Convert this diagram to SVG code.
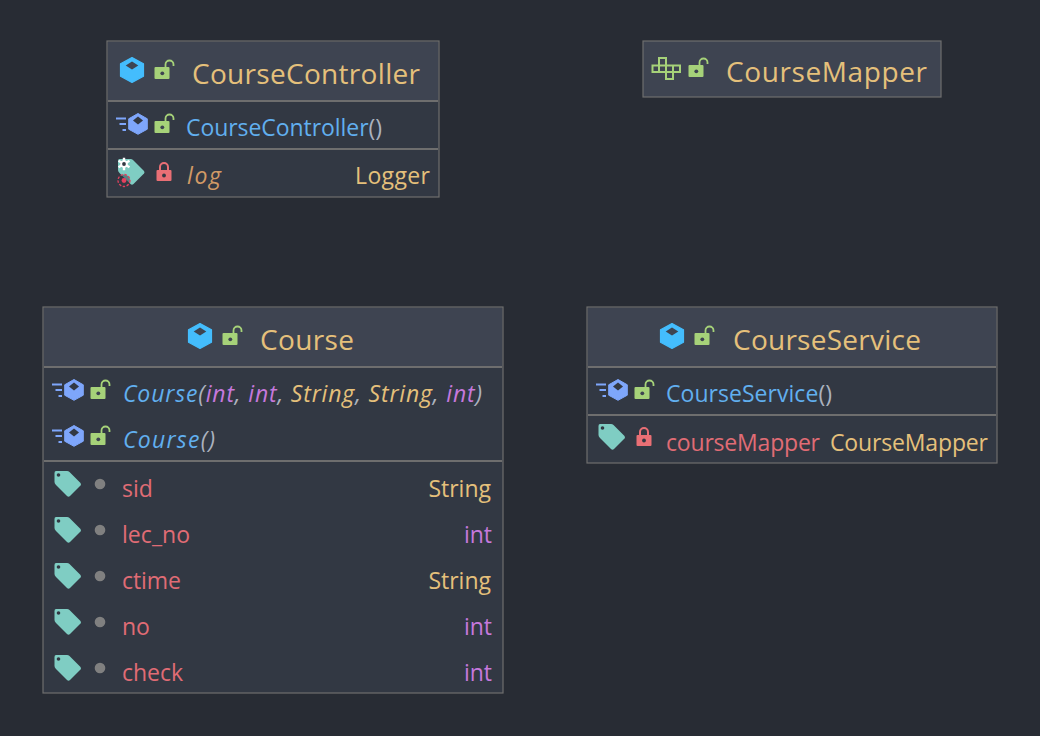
<svg xmlns="http://www.w3.org/2000/svg" width="1040" height="736" viewBox="0 0 1040 736">
<style>
text{font-family:"Open Sans","Noto Sans","Liberation Sans",sans-serif;font-size:23px}
.title{font-size:28px;fill:#e5c07b}
.m{fill:#61afef}.p{fill:#abb2bf}.t{fill:#e5c07b}.f{fill:#e06c75}.n{fill:#c678dd}.i{font-style:italic}.s{fill:#d19a66}
.r{text-anchor:end}
.box{fill:#323843;stroke:#6e6e6e;stroke-width:1.200}
.hd{fill:#3e4451}
.div{stroke:#6e6e6e;stroke-width:2}
</style>
<defs>
<g id="cube"><path d="M0-12.500 11.500-6.200V6.200L0 12.500-11.500 6.200V-6.200Z" fill="#44bdfd" stroke="#44bdfd" stroke-width="1.200" stroke-linejoin="round"/><path d="M0-8.500 6.300-4.500 0-.5-6.300-4.500Z" fill="#3e4451"/></g>
<g id="lockopen"><rect x="-9.500" y="-3" width="15" height="12" rx="1" fill="#a6d279"/><circle cx="-1.700" cy="3.300" r="1.900" fill="#3e4451"/><path d="M1.500-3V-5.500A4 4 0 0 1 9.500-5.500V-4" fill="none" stroke="#a6d279" stroke-width="1.800"/></g>
<g id="lockred"><rect x="-8" y="-2" width="15" height="11" rx="1" fill="#e96f75"/><circle cx="-.5" cy="3.500" r="1.900" fill="#323843"/><path d="M-4.500-2V-5A4 4 0 0 1 3.500-5V-2" fill="none" stroke="#e96f75" stroke-width="2"/></g>
<g id="ctor"><path d="M10-10.500 19.300-5.200V5.200L10 10.300.7 5.200V-5.200Z" fill="#7ea6fb" stroke="#7ea6fb" stroke-width="1" stroke-linejoin="round"/><path d="M10-7.500 15-3.500 10 .5 5-3.500Z" fill="#323843"/><path d="M-12-5.500H-2M-8.500 0H-2M-5.500 6H-2" stroke="#7ea6fb" stroke-width="2" fill="none"/></g>
<g id="tag"><path d="M2.500 1H13.500Q15 1 16 2L27 13Q28 14.500 27 15.500L16.500 26Q15 27.500 13.500 26L2.500 15Q1 13.500 1 12V3Q1 1 2.500 1Z" fill="#7fcdc3"/><circle cx="5" cy="5" r="1.800" fill="#323843"/></g>
<circle id="pkg" r="5.300" fill="#808080"/>
</defs>
<rect width="1040" height="736" fill="#282c34"/>
<g id="connectors"/>

<g id="CourseController">
<rect class="box" x="107" y="41" width="332" height="156"/>
<rect class="hd" x="108" y="42" width="330" height="59"/>
<path class="div" d="M108 101H438M108 149H438"/>
<use href="#cube" x="132" y="70"/><use href="#lockopen" x="164" y="70"/>
<text class="title" x="192" y="83.500" textLength="228">CourseController</text>
<use href="#ctor" x="128" y="124"/><use href="#lockopen" x="164" y="124"/>
<text x="186" y="136" textLength="196"><tspan class="m">CourseController</tspan><tspan class="p">()</tspan></text>
<use href="#tag" x="117" y="158"/>
<path d="M124 157.700V170.300M118.500 160.800 129.500 167.200M118.500 167.200 129.500 160.800" stroke="#fff" stroke-width="2.400"/><circle cx="124" cy="164" r="3.800" fill="#fff"/><circle cx="124" cy="164" r="1.900" fill="#323843"/>
<circle cx="124" cy="180.500" r="6" fill="#323843" fill-opacity=".5" stroke="#e5405e" stroke-width="1.300" stroke-dasharray="2.500 1.500"/><circle cx="124" cy="180.500" r="2.400" fill="#e5405e"/>
<use href="#lockred" x="164.500" y="172"/>
<text class="s i" x="187" y="184" textLength="34">log</text>
<text class="t r" x="430" y="184" textLength="75">Logger</text>
</g>

<g id="CourseMapper">
<rect class="box" x="643" y="41" width="298" height="56" style="fill:#3e4451"/>
<path d="M652.500 65.500H680V72H652.500ZM659 65.500V58H666V72M673 65.500V79H666V72M659 65.500V72" fill="none" stroke="#a6d279" stroke-width="2"/>
<use href="#lockopen" x="698" y="68"/>
<text class="title" x="726" y="81.500" textLength="201">CourseMapper</text>
</g>

<g id="Course">
<rect class="box" x="43" y="307" width="460" height="386"/>
<rect class="hd" x="44" y="308" width="458" height="59"/>
<path class="div" d="M44 367H502M44 461H502"/>
<use href="#cube" x="200" y="336"/><use href="#lockopen" x="232" y="336"/>
<text class="title" x="260" y="349.500" textLength="94">Course</text>
<use href="#ctor" x="64" y="390"/><use href="#lockopen" x="100" y="390"/>
<text class="i" x="123" y="402" textLength="359"><tspan class="m">Course</tspan><tspan class="p">(</tspan><tspan class="n">int</tspan><tspan class="p">, </tspan><tspan class="n">int</tspan><tspan class="p">, </tspan><tspan class="t">String</tspan><tspan class="p">, </tspan><tspan class="t">String</tspan><tspan class="p">, </tspan><tspan class="n">int</tspan><tspan class="p">)</tspan></text>
<use href="#ctor" x="64" y="436"/><use href="#lockopen" x="100" y="436"/>
<text class="i" x="123" y="448" textLength="92"><tspan class="m">Course</tspan><tspan class="p">()</tspan></text>
<use href="#tag" x="53.500" y="470"/><use href="#pkg" x="100" y="484"/>
<text class="f" x="122" y="496.500">sid</text><text class="t r" x="491" y="496.500">String</text>
<use href="#tag" x="53.500" y="516"/><use href="#pkg" x="100" y="530"/>
<text class="f" x="122" y="542.500" textLength="68">lec_no</text><text class="n r" x="492" y="542.500">int</text>
<use href="#tag" x="53.500" y="562"/><use href="#pkg" x="100" y="576"/>
<text class="f" x="122" y="588.500" textLength="59">ctime</text><text class="t r" x="491" y="588.500">String</text>
<use href="#tag" x="53.500" y="608"/><use href="#pkg" x="100" y="622"/>
<text class="f" x="122" y="634.500">no</text><text class="n r" x="492" y="634.500">int</text>
<use href="#tag" x="53.500" y="654"/><use href="#pkg" x="100" y="668"/>
<text class="f" x="122" y="680.500" textLength="61">check</text><text class="n r" x="492" y="680.500">int</text>
</g>

<g id="CourseService">
<rect class="box" x="587" y="307" width="410" height="156"/>
<rect class="hd" x="588" y="308" width="408" height="59"/>
<path class="div" d="M588 367H996M588 415H996"/>
<use href="#cube" x="672" y="336"/><use href="#lockopen" x="704" y="336"/>
<text class="title" x="733" y="349.500" textLength="188">CourseService</text>
<use href="#ctor" x="608" y="390"/><use href="#lockopen" x="644" y="390"/>
<text x="666" y="402" textLength="166"><tspan class="m">CourseService</tspan><tspan class="p">()</tspan></text>
<use href="#tag" x="597.500" y="423"/>
<use href="#lockred" x="644.500" y="437"/>
<text class="f" x="666" y="450.500" textLength="154">courseMapper</text>
<text class="t r" x="988" y="450.500" textLength="158">CourseMapper</text>
</g>
</svg>
